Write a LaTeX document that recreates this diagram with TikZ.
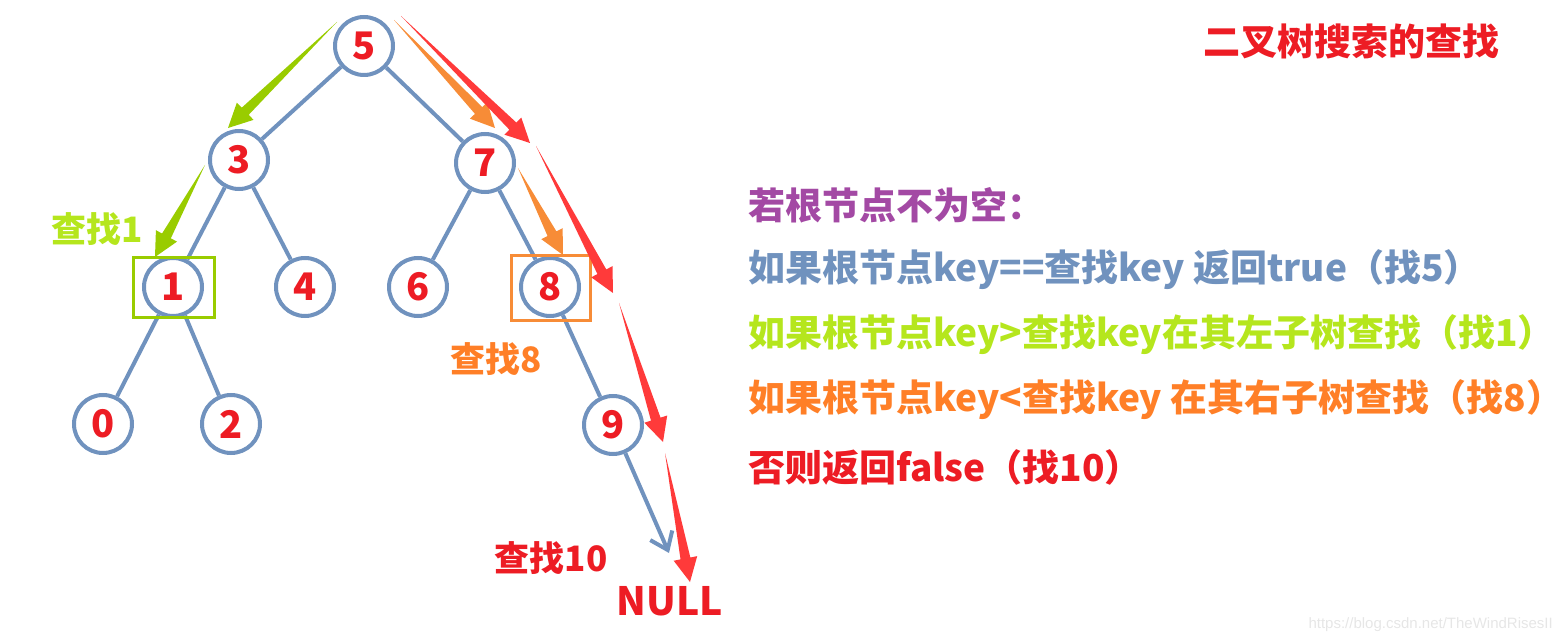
\documentclass[tikz,border=0pt]{standalone}
\usepackage{fontspec}
\newfontfamily\cjk{Noto Sans CJK SC}
\newfontfamily\wmfont{Liberation Sans}
\usetikzlibrary{calc,arrows.meta}
\definecolor{edgeblue}{RGB}{112,146,190}
\definecolor{numred}{RGB}{237,28,36}
\definecolor{arrred}{RGB}{255,58,58}
\definecolor{arrgreen}{RGB}{153,204,0}
\definecolor{txtgreen}{RGB}{181,230,29}
\definecolor{arrorange}{RGB}{247,140,55}
\definecolor{txtorange}{RGB}{255,127,39}
\definecolor{txtpurple}{RGB}{163,73,164}
\definecolor{wmgray}{RGB}{230,230,230}
\newcommand{\setfs}[1]{\fontsize{#1}{#1}\selectfont}
% thin at the start, wide near the head
\newcommand{\taperarrow}[3]{%
  \coordinate (hb) at ($(#3)!24pt!(#2)$);
  \fill[#1] (#2) -- ($(hb)!5pt!90:(#3)$) -- ($(hb)!12pt!90:(#3)$) -- (#3)
    -- ($(hb)!12pt!-90:(#3)$) -- ($(hb)!5pt!-90:(#3)$) -- cycle;
}
\tikzstyle{vertex}=[circle,draw=edgeblue,line width=4pt,minimum size=58pt,inner sep=0pt,text=numred,font=\cjk\bfseries\setfs{38}]
\tikzstyle{lbl}=[inner sep=0pt,font=\cjk\bfseries\setfs{35}]
\tikzstyle{rule}=[inner sep=0pt,anchor=west,font=\cjk\bfseries\setfs{37}]
\tikzstyle{hitbox}=[draw,line width=3pt,inner sep=0pt]

\begin{document}
\begin{tikzpicture}[x=1pt,y=-1pt]
    \useasboundingbox (0,0) rectangle (1564,644);
    \node[vertex] (n5) at (364,46)  {5};
    \node[vertex] (n3) at (239,160) {3};
    \node[vertex] (n7) at (485,163) {7};
    \node[vertex] (n1) at (173,287) {1};
    \node[vertex] (n4) at (305,287) {4};
    \node[vertex] (n6) at (418,287) {6};
    \node[vertex] (n8) at (550,287) {8};
    \node[vertex] (n0) at (103,424) {0};
    \node[vertex] (n2) at (231,424) {2};
    \node[vertex] (n9) at (613,425) {9};
    \coordinate (nullpt) at (669,553);

    \foreach \from/\to in {n5/n3,n5/n7,n3/n1,n3/n4,n1/n0,n1/n2,n7/n6,n7/n8,n8/n9}
    \draw[edgeblue,line width=4pt] (\from) -- (\to);
    \draw[edgeblue,line width=4pt,-{Straight Barb[length=16pt,width=24pt]}] (n9) -- (nullpt);

    % found boxes
    \node[hitbox,draw=arrgreen,minimum width=81pt,minimum height=60pt] (box1) at (173.5,288) {};
    \node[hitbox,draw=arrorange,minimum width=79pt,minimum height=65pt] (box8) at (550.5,288.5) {};

    % search paths
    \coordinate (g1s) at (337,22);  \coordinate (g1e) at (228,128);
    \coordinate (g2s) at (205,165); \coordinate (g2e) at (155,257);
    \coordinate (o1s) at (394,20);  \coordinate (o1e) at (495,128);
    \coordinate (o2s) at (518,168); \coordinate (o2e) at (563,255);
    \coordinate (r1s) at (401,16);  \coordinate (r1e) at (530,143);
    \coordinate (r2s) at (536,146); \coordinate (r2e) at (613,293);
    \coordinate (r3s) at (619,303); \coordinate (r3e) at (663,442);
    \coordinate (r4s) at (665,453); \coordinate (r4e) at (690,582);
    \foreach \s/\e/\c in {g1s/g1e/arrgreen,g2s/g2e/arrgreen,o1s/o1e/arrorange,o2s/o2e/arrorange,
                          r1s/r1e/arrred,r2s/r2e/arrred,r3s/r3e/arrred,r4s/r4e/arrred}
    \taperarrow{\c}{\s}{\e};

    \node[lbl,text=txtgreen] (find1) at (97,229) {查找1};
    \node[lbl,text=txtorange] (find8) at (496,359) {查找8};
    \node[lbl,text=numred] (find10) at (551,558) {查找10};
    \node[lbl,text=numred,font=\cjk\bfseries\setfs{39}] (null) at (670,601) {NULL};

    \node[rule,text=numred] (title) at (1203,41) {二叉树搜索的查找};
    \node[rule,text=txtpurple] (rule0) at (748,205) {若根节点不为空：};
    \node[rule,text=edgeblue] (rule1) at (748,270) {如果根节点key==查找key 返回true（找5）};
    \node[rule,text=txtgreen] (rule2) at (748,335) {如果根节点key>查找key在其左子树查找（找1）};
    \node[rule,text=txtorange] (rule3) at (748,400) {如果根节点key<查找key 在其右子树查找（找8）};
    \node[rule,text=numred] (rule4) at (748,467) {否则返回false（找10）};

    \node[anchor=east,inner sep=0pt,text=wmgray,font=\wmfont\setfs{15}] (mark) at (1553,625) {https://blog.csdn.net/TheWindRisesII};
\end{tikzpicture}
\end{document}
